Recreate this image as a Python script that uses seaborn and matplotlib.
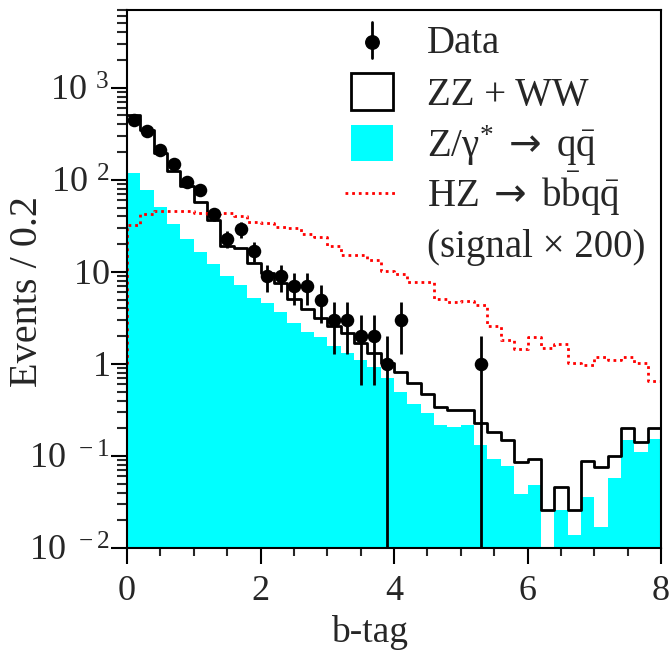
import numpy as np
import pandas as pd
import matplotlib
matplotlib.use('Agg')
import matplotlib.pyplot as plt
from matplotlib.patches import Rectangle
from matplotlib.lines import Line2D
from matplotlib.ticker import FixedLocator, FixedFormatter, LogLocator, NullFormatter, MultipleLocator
import seaborn as sns

# 40 bins of width 0.2 in b-tag
bin_edges = np.round(np.arange(0, 8.0001, 0.2), 1)
bin_centers = np.round(bin_edges[:-1] + 0.1, 2)

# events per bin
data_counts = [450, 335, 212, 149, 94, 77, 42, 23, 29, 17,
               9, 9, 7, 7, 5, 3, 3, 2, 2, 1,
               3, 0, 0, 0, 0, 0, 1, 0, 0, 0,
               0, 0, 0, 0, 0, 0, 0, 0, 0, 0]

# ZZ + WW stacked on top of Z/gamma* (total background)
total_bkg = [509, 350, 195, 126, 85, 57, 37, 19, 18, 12.4,
             9.8, 7.5, 5.05, 3.93, 3.14, 2.59, 2.15, 1.68, 1.31, 1.02,
             0.81, 0.62, 0.47, 0.34, 0.316, 0.316, 0.226, 0.184, 0.149, 0.085,
             0.092, 0.026, 0.046, 0.026, 0.089, 0.075, 0.1, 0.2, 0.143, 0.2]

# Z/gamma* -> qq
zgamma_qq = [118, 78, 50.5, 33, 23, 16.6, 12.2, 9.05, 7.2, 5.2,
             4.57, 3.7, 2.77, 2.24, 1.98, 1.57, 1.31, 1.1, 0.93, 0.70,
             0.50, 0.37, 0.29, 0.217, 0.208, 0.217, 0.13, 0.092, 0.077, 0.039,
             0.048, 0, 0.026, 0.0138, 0.036, 0.017, 0.057, 0.149, 0.111, 0.152]

# HZ -> bbqq signal, scaled x200
hz_signal_x200 = [32, 43, 46, 46, 46, 44, 43, 44, 40, 35,
                  34, 31, 30, 26, 24, 19, 15.3, 15.2, 13.5, 10.2,
                  9.4, 7.8, 7.8, 5.05, 4.75, 4.85, 4.4, 2.6, 1.82, 1.44,
                  1.95, 1.48, 1.65, 1.02, 0.97, 1.18, 1.1, 1.18, 1.02, 0.65]

y_tick_values = [1e-2, 1e-1, 1, 10, 1e2, 1e3]
y_tick_labels = [r'$\mathregular{10^{\enspace -2}}$', r'$\mathregular{10^{\enspace -1}}$',
                 r'$\mathregular{1\enspace}$', r'$\mathregular{10\enspace}$',
                 r'$\mathregular{10^{\enspace 2}}$', r'$\mathregular{10^{\enspace 3}}$']

legend_labels = ['Data', 'ZZ + WW',
                 r'Z/$\mathregular{\gamma^{*}\ \mathsf{\rightarrow}\ q\bar{q}}$',
                 r'HZ$\mathregular{\ \mathsf{\rightarrow}\ b\bar{b}q\bar{q}}$',
                 '(signal \u00d7 200)']

df = pd.DataFrame({'btag': bin_centers, 'data': data_counts, 'bkg': total_bkg,
                   'zq': zgamma_qq, 'sig': hz_signal_x200})

sns.set_style('ticks')
plt.rcParams['font.family'] = ['Liberation Serif', 'DejaVu Serif']
plt.rcParams['mathtext.fontset'] = 'custom'
plt.rcParams['mathtext.rm'] = 'Liberation Serif'
plt.rcParams['mathtext.it'] = 'Liberation Serif:italic'
plt.rcParams['mathtext.bf'] = 'Liberation Serif:bold'
plt.rcParams['mathtext.sf'] = 'DejaVu Sans'

fig = plt.figure(figsize=(6.7, 6.58), dpi=100)
ax = fig.add_axes([0.1896, 0.1672, 0.797, 0.8176])

# Z/gamma* filled histogram
sns.histplot(df, x='btag', weights='zq', binwidth=0.2, binrange=(0, 8), element='step',
             fill=True, color='#00ffff', alpha=1, linewidth=0, ax=ax)

# total background outline
sns.histplot(df, x='btag', weights='bkg', binwidth=0.2, binrange=(0, 8), element='step',
             fill=False, color='black', linewidth=2, ax=ax)

# signal as dotted red step line (starts at y=1 on the left edge)
sig_x = [0.0] + list(bin_edges)
sig_y = [1.0] + list(df['sig']) + [df['sig'].iloc[-1]]
sns.lineplot(x=sig_x, y=sig_y, drawstyle='steps-post', sort=False, estimator=None,
             color='#ff0000', linewidth=2, linestyle=(0, (1, 1.4)), ax=ax)

# data points with sqrt(N) errors
dd = df[df['data'] > 0]
err = np.sqrt(dd['data'])
ax.errorbar(dd['btag'], dd['data'], yerr=err, fmt='none', ecolor='black',
            elinewidth=2, capsize=0, zorder=4)
sns.scatterplot(data=dd, x='btag', y='data', color='black', s=95, edgecolor='black',
                linewidth=0, zorder=5, ax=ax)

ax.set_yscale('log')
ax.set_xlim(0, 8)
ax.set_ylim(0.01, 7000)

ax.yaxis.set_major_locator(FixedLocator(y_tick_values))
ax.yaxis.set_major_formatter(FixedFormatter(y_tick_labels))
ax.yaxis.set_minor_locator(LogLocator(base=10, subs=np.arange(2, 10)))
ax.yaxis.set_minor_formatter(NullFormatter())
ax.xaxis.set_major_locator(MultipleLocator(2))
ax.xaxis.set_minor_locator(MultipleLocator(0.5))

ax.tick_params(axis='both', which='major', direction='out', length=11.5, width=1.5,
               labelsize=26, color='black')
ax.tick_params(axis='y', which='minor', direction='out', length=7, width=1.5)
ax.tick_params(axis='x', which='minor', direction='out', length=6, width=1.5)
ax.tick_params(axis='x', which='major', pad=8)
ax.tick_params(axis='y', which='major', pad=1)
for sp in ax.spines.values():
    sp.set_linewidth(1.5)
    sp.set_color('black')

ax.set_xlabel('b-tag', fontsize=27)
ax.set_ylabel('Events / 0.2', fontsize=29)
ax.xaxis.set_label_coords(0.455, -0.125)
ax.yaxis.set_label_coords(-0.152, 0.476)

# legend drawn by hand, top right
tr = ax.transAxes
ax.add_line(Line2D([0.4588, 0.4588], [0.9108, 0.9782], color='black', lw=2, transform=tr))
ax.add_line(Line2D([0.4588], [0.9405], marker='o', ms=9.7, color='black', transform=tr))
ax.add_patch(Rectangle((0.4195, 0.814), 0.0787, 0.069, fill=False, ec='black', lw=2, transform=tr))
ax.add_patch(Rectangle((0.4195, 0.7193), 0.0787, 0.0669, fc='#00ffff', ec='none', transform=tr))
ax.add_line(Line2D([0.408, 0.5075], [0.66, 0.66], color='#ff0000', lw=2,
                   linestyle=(0, (1, 1.4)), transform=tr))
label_y = [0.920, 0.8234, 0.7274, 0.6344, 0.5414]
for lab, yy in zip(legend_labels, label_y):
    ax.text(0.5618, yy, lab, transform=tr, fontsize=28, va='baseline', ha='left')

fig.savefig('out.png', dpi=100)
